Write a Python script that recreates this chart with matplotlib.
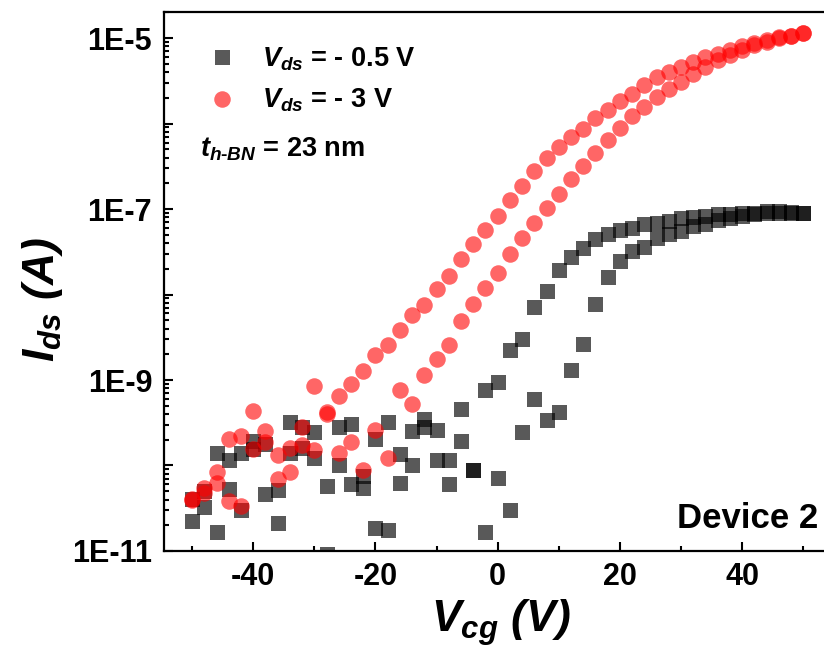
import matplotlib
matplotlib.use("Agg")
import matplotlib.pyplot as plt
import numpy as np
from matplotlib.ticker import FixedLocator, FuncFormatter, LogLocator, NullFormatter

# gate voltage sweep (V), 2 V step
vcg = list(range(-50, 51, 2))

# Vds = -0.5 V, two sweeps (A)
ids_05_fwd = [
    4.07e-11, 3.24e-11, 1.41e-10, 1.15e-10, 1.41e-10, 1.95e-10, 1.78e-10, 5.1e-11, 3.24e-10, 2.82e-10,
    2.45e-10, 5.75e-11, 2.82e-10, 3.02e-10, 7.6e-11, 2.04e-10, 3.24e-10, 1.35e-10, 2.51e-10, 3.47e-10,
    2.57e-10, 1.17e-10, 4.57e-10, 8.9e-11, 7.6e-10, 9.5e-10, 2.24e-9, 3.02e-9, 7.24e-9, 1.1e-8,
    1.95e-8, 2.75e-8, 3.47e-8, 4.47e-8, 5.13e-8, 5.62e-8, 6.03e-8, 6.6e-8, 6.9e-8, 7.24e-8,
    7.76e-8, 8.1e-8, 8.3e-8, 8.7e-8, 8.7e-8, 8.9e-8, 9.1e-8, 9.5e-8, 9.5e-8, 9.3e-8, 9.1e-8,
]
ids_05_bwd = [
    2.24e-11, 5.0e-11, 1.66e-11, 5.25e-11, 3.02e-11, 1.58e-10, 4.68e-11, 2.14e-11, 1.41e-10, 1.62e-10,
    1.23e-10, 9.3e-12, 1.02e-10, 6.0e-11, 5.5e-11, 1.86e-11, 1.78e-11, 6.3e-11, 1.02e-10, 2.82e-10,
    1.17e-10, 6.0e-11, 1.95e-10, 8.9e-11, 1.66e-11, 7.1e-11, 3.02e-11, 2.45e-10, 6.0e-10, 3.39e-10,
    4.17e-10, 1.32e-9, 2.63e-9, 7.76e-9, 1.62e-8, 2.45e-8, 3.24e-8, 3.63e-8, 4.57e-8, 5.13e-8,
    5.5e-8, 6.3e-8, 6.6e-8, 7.41e-8, 7.76e-8, 8.3e-8, 8.7e-8, 8.9e-8, 9.1e-8, 9.1e-8, 9.1e-8,
]

# Vds = -3 V, two sweeps (A)
ids_3_fwd = [
    4.07e-11, 5.5e-11, 8.3e-11, 2.04e-10, 2.24e-10, 4.37e-10, 2.51e-10, 1.32e-10, 1.62e-10, 2.82e-10,
    8.5e-10, 4.17e-10, 6.46e-10, 9.1e-10, 1.26e-9, 1.95e-9, 2.57e-9, 3.89e-9, 5.75e-9, 7.59e-9,
    1.17e-8, 1.66e-8, 2.57e-8, 3.89e-8, 5.75e-8, 8.3e-8, 1.29e-7, 1.86e-7, 2.75e-7, 3.98e-7,
    5.37e-7, 6.92e-7, 8.7e-7, 1.15e-6, 1.45e-6, 1.82e-6, 2.24e-6, 2.82e-6, 3.47e-6, 3.98e-6,
    4.57e-6, 5.25e-6, 6.03e-6, 6.6e-6, 7.24e-6, 8.1e-6, 8.7e-6, 9.5e-6, 1.02e-5, 1.05e-5, 1.15e-5,
]
ids_3_bwd = [
    3.98e-11, 4.79e-11, 6.3e-11, 3.8e-11, 3.39e-11, 1.55e-10, 1.86e-10, 6.9e-11, 8.5e-11, 1.74e-10,
    1.51e-10, 3.98e-10, 1.41e-10, 1.86e-10, 8.9e-11, 2.57e-10, 1.23e-10, 7.6e-10, 5.25e-10, 1.15e-9,
    1.74e-9, 2.57e-9, 4.9e-9, 7.76e-9, 1.2e-8, 1.78e-8, 2.95e-8, 4.57e-8, 6.9e-8, 1.02e-7,
    1.51e-7, 2.24e-7, 3.16e-7, 4.57e-7, 6.46e-7, 8.9e-7, 1.23e-6, 1.58e-6, 2.04e-6, 2.57e-6,
    3.09e-6, 3.8e-6, 4.57e-6, 5.5e-6, 6.3e-6, 7.24e-6, 8.3e-6, 8.9e-6, 1.0e-5, 1.05e-5, 1.15e-5,
]

x_major = [-40, -20, 0, 20, 40]
x_minor = [-50, -30, -10, 10, 30, 50]
y_labelled = [1e-11, 1e-9, 1e-7, 1e-5]

plt.rcParams.update(
    {
        "font.family": ["Liberation Sans", "DejaVu Sans"],
        "font.weight": "bold",
        "axes.unicode_minus": False,
        "mathtext.fontset": "custom",
        "mathtext.rm": "Liberation Sans:bold",
        "mathtext.bf": "Liberation Sans:bold",
        "mathtext.it": "Liberation Sans:italic:bold",
        "mathtext.default": "it",
    }
)

fig = plt.figure(figsize=(8.24, 6.62), dpi=100)
ax = fig.add_axes([0.199, 0.1677, 0.801, 0.8142])

sq = dict(marker="s", linestyle="none", color="black", alpha=0.65, markersize=10.8, markeredgewidth=0)
ci = dict(marker="o", linestyle="none", color="red", alpha=0.6, markersize=11.9, markeredgewidth=0)

ax.plot(vcg, ids_05_fwd, **sq)
ax.plot(vcg, ids_05_bwd, **sq)
ax.plot(vcg, ids_3_fwd, **ci)
ax.plot(vcg, ids_3_bwd, **ci)

ax.set_yscale("log")
ax.set_xlim(-54.6, 53.4)
ax.set_ylim(1e-11, 2.02e-5)

ax.xaxis.set_major_locator(FixedLocator(x_major))
ax.xaxis.set_minor_locator(FixedLocator(x_minor))
ax.yaxis.set_major_locator(LogLocator(base=10, numticks=20))
ax.yaxis.set_minor_locator(LogLocator(base=10, subs=np.arange(2, 10), numticks=20))
ax.yaxis.set_minor_formatter(NullFormatter())


def fmt_y(v, pos):
    for lab in y_labelled:
        if abs(np.log10(v) - np.log10(lab)) < 1e-6:
            return "1E%d" % round(np.log10(v))
    return ""


ax.yaxis.set_major_formatter(FuncFormatter(fmt_y))

ax.tick_params(which="both", direction="in", width=1.5, top=False, right=False)
ax.tick_params(which="major", length=6.5)
ax.tick_params(which="minor", length=3.5)
ax.tick_params(axis="y", pad=8.5, labelsize=22)
ax.tick_params(axis="x", pad=8, labelsize=22)
for lab in ax.get_xticklabels() + ax.get_yticklabels():
    lab.set_fontweight("bold")

for name in ("left", "bottom", "top"):
    ax.spines[name].set_linewidth(1.6)
ax.spines["right"].set_visible(False)

ax.set_xlabel(r"$V_{cg}$ (V)", fontsize=32, fontweight="bold", fontstyle="italic")
ax.set_ylabel(r"$I_{ds}$ (A)", fontsize=32, fontweight="bold", fontstyle="italic")
ax.xaxis.set_label_coords(0.51, -0.085)
ax.yaxis.set_label_coords(-0.15, 0.466)

# legend drawn by hand
ax.plot([0.088], [0.917], transform=ax.transAxes, clip_on=False, **sq)
ax.plot([0.088], [0.839], transform=ax.transAxes, clip_on=False, **ci)
ax.text(0.148, 0.898, r"$V_{ds}$ = - 0.5 V", transform=ax.transAxes, fontsize=19.5,
        fontweight="bold", va="baseline", ha="left")
ax.text(0.148, 0.822, r"$V_{ds}$ = - 3 V", transform=ax.transAxes, fontsize=19.5,
        fontweight="bold", va="baseline", ha="left")
ax.text(0.0545, 0.731, r"$t_{h\text{-}BN}$ = 23 nm", transform=ax.transAxes, fontsize=19.5,
        fontweight="bold", va="baseline", ha="left")
ax.text(0.991, 0.0427, "Device 2", transform=ax.transAxes, fontsize=25,
        fontweight="bold", va="baseline", ha="right")

fig.savefig("out.png", dpi=100)
